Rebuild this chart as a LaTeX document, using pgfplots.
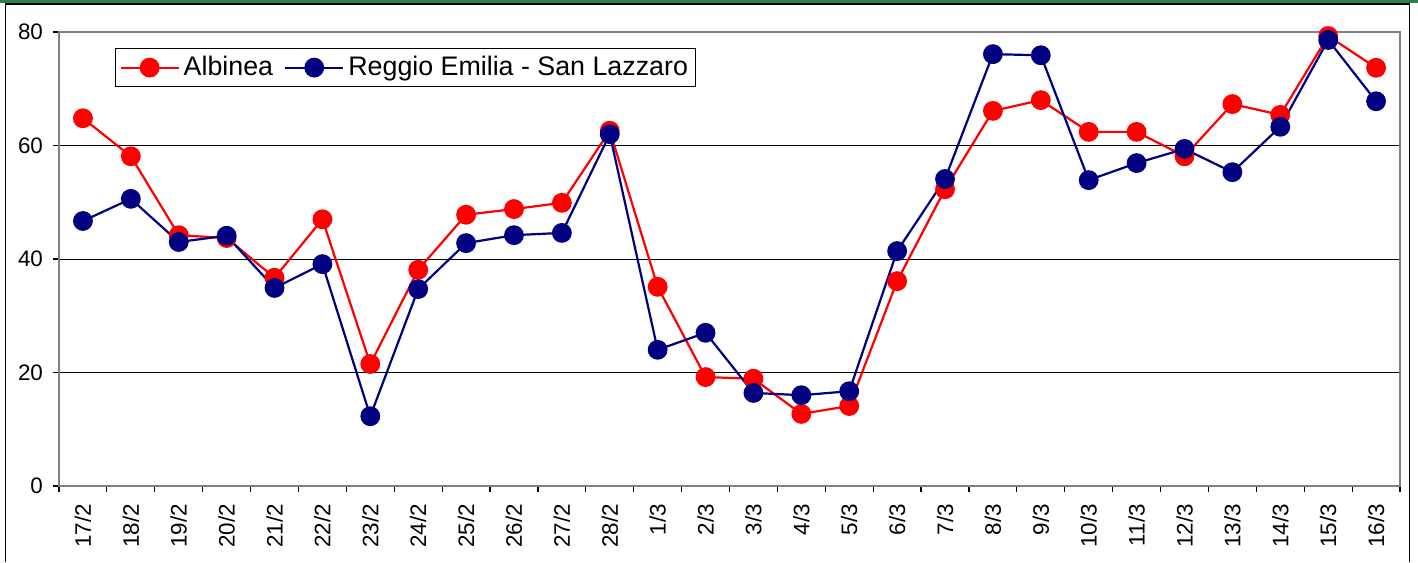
\documentclass[border=0pt]{standalone}
\usepackage{fontspec}
\setmainfont{Liberation Sans}
\usepackage{pgfplots}
\pgfplotsset{compat=1.18}
\definecolor{navyb}{RGB}{0,0,128}
\definecolor{redb}{RGB}{255,0,0}
\definecolor{frgreen}{RGB}{46,125,80}
\definecolor{boxgray}{RGB}{128,128,128}
\begin{document}
\begin{tikzpicture}[x=1pt,y=1pt]
\path[use as bounding box, fill=white] (0,0) rectangle (709,281);
\fill[frgreen] (0,279.4) rectangle (709,281);
\draw[black,line width=0.6pt] (2.8,0) -- (2.8,279.0) -- (704.6,279.0) -- (704.6,0);
\begin{axis}[
  at={(29.5pt,38pt)}, anchor=south west,
  scale only axis, width=670.5pt, height=227pt,
  xmin=-0.5, xmax=27.5, ymin=0, ymax=80,
  axis line style={draw=boxgray, line width=1.1pt},
  ymajorgrids, grid style={black, line width=0.5pt},
  ytick={0,20,40,60,80},
  xtick={0,...,27},
  xticklabels={17/2,18/2,19/2,20/2,21/2,22/2,23/2,24/2,25/2,26/2,27/2,28/2,1/3,2/3,3/3,4/3,5/3,6/3,7/3,8/3,9/3,10/3,11/3,12/3,13/3,14/3,15/3,16/3},
  minor xtick={-0.5,0.5,...,27.5},
  tick align=outside,
  major tick length=3pt, minor tick length=3pt,
  major x tick style={draw=none},
  tick style={black, line width=0.6pt},
  xtick pos=bottom, ytick pos=left,
  ticklabel style={font=\fontsize{11.2}{13}\selectfont},
  /pgf/number format/assume math mode=true,
  xticklabel style={rotate=90, anchor=east},
  xticklabel shift=2.5pt,
  yticklabel shift=1.5pt,
  legend columns=2,
  legend style={at={(0.0418,0.965)}, anchor=north west, draw=black, line width=0.5pt,
    font=\fontsize{13.4}{16}\selectfont, inner sep=2pt,
    /tikz/every even column/.append style={column sep=3.5pt}},
  legend cell align=left,
  legend image code/.code={\draw[mark repeat=2,mark phase=2,#1] plot coordinates {(0pt,0pt) (14.5pt,0pt) (29pt,0pt)};},
]
\addplot[redb, line width=1.1pt, mark=*, mark size=4.4pt, mark options={solid, fill=redb, draw=redb}] coordinates {
(0,64.8) (1,58.1) (2,44.2) (3,43.7) (4,36.7) (5,47.0) (6,21.5) (7,38.1) (8,47.8) (9,48.8) (10,49.9) (11,62.6) (12,35.1) (13,19.2) (14,18.9) (15,12.7) (16,14.1) (17,36.1) (18,52.3) (19,66.1) (20,68.0) (21,62.4) (22,62.4) (23,58.1) (24,67.3) (25,65.4) (26,79.3) (27,73.7)};
\addlegendentry{Albinea}
\addplot[navyb, line width=1.1pt, mark=*, mark size=4.4pt, mark options={solid, fill=navyb, draw=navyb}] coordinates {
(0,46.7) (1,50.6) (2,43.0) (3,44.1) (4,34.9) (5,39.1) (6,12.3) (7,34.7) (8,42.8) (9,44.2) (10,44.6) (11,62.0) (12,24.0) (13,27.0) (14,16.4) (15,16.0) (16,16.7) (17,41.4) (18,54.1) (19,76.1) (20,75.9) (21,53.9) (22,56.9) (23,59.4) (24,55.3) (25,63.3) (26,78.6) (27,67.8)};
\addlegendentry{Reggio Emilia - San Lazzaro}
\end{axis}
\end{tikzpicture}
\end{document}
